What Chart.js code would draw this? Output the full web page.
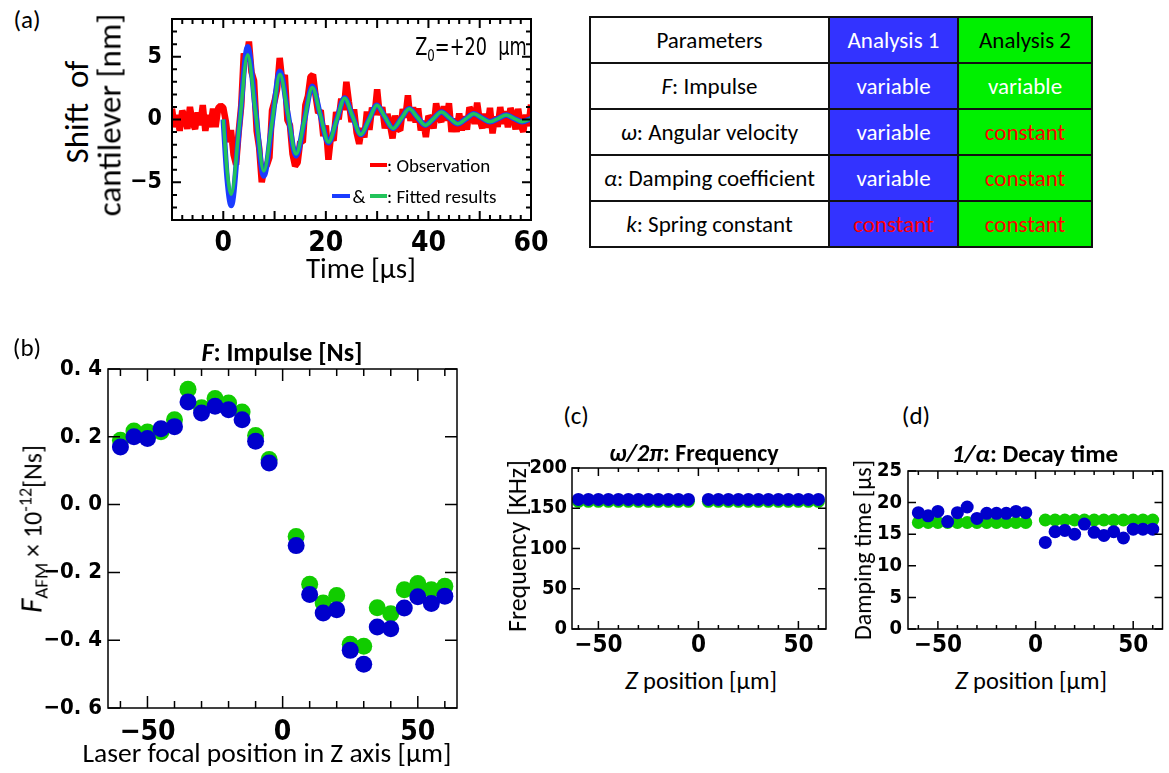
<!DOCTYPE html>
<html>
<head>
<meta charset="utf-8">
<title>Cantilever impulse analysis</title>
<script src="https://cdn.jsdelivr.net/npm/chart.js@4.4.1/dist/chart.umd.min.js"></script>
<style>
  body { margin: 0; background: #fff; }
  #page { position: relative; width: 1169px; height: 773px; overflow: hidden; font-family: Carlito, Lato, sans-serif; color: #000; }
  #page canvas { position: absolute; }
  .t { position: absolute; white-space: nowrap; transform: translate(-50%, -50%); line-height: 1; }
  .l { position: absolute; white-space: nowrap; transform: translate(0, -50%); line-height: 1; }
  .v { transform: translate(-50%, -50%) rotate(-90deg); }
  .cond { font-family: 'Liberation Sans Narrow', 'DejaVu Sans Condensed', 'Roboto Condensed', sans-serif; }
  .swatch { position: absolute; height: 4px; }
  sub, sup { line-height: 0; }
  #params { position: absolute; left: 589px; top: 16px; width: 502px; height: 229px; border-collapse: collapse; table-layout: fixed; font-size: 23px; }
  #params td { border: 2px solid #111; text-align: center; padding: 0; height: 44px; }
  #params .a1 { background: #3333ff; color: #fff; }
  #params .a2 { background: #00f000; color: #fff; }
  #params .const { color: #ff0000; }
</style>
</head>
<body>
<div id="page">
  <canvas id="chartA" width="450" height="265" style="left:110px;top:0px"></canvas>
  <canvas id="chartB" width="440" height="433" style="left:30px;top:340px"></canvas>
  <canvas id="chartC" width="320" height="220" style="left:520px;top:440px"></canvas>
  <canvas id="chartD" width="314" height="220" style="left:855px;top:440px"></canvas>

  <!-- (a) -->
  <div class="t" style="left:27px;top:19px;font-size:25px">(a)</div>
  <div class="t v" style="left:77px;top:112px;font-size:33px">Shift&nbsp; of</div>
  <div class="t v" style="left:110px;top:115px;font-size:33px">cantilever [nm]</div>
  <div class="t" style="left:361px;top:268px;font-size:29px">Time [µs]</div>
  <div class="t cond" style="left:471px;top:47px;font-size:24px;transform:translate(-50%,-50%) scaleX(0.82)">Z<sub style="font-size:16px">0</sub>=+20&nbsp;&nbsp;µm</div>
  <div class="swatch" style="left:370px;top:163px;width:17px;background:#ff0000"></div>
  <div class="l" style="left:387px;top:165px;font-size:19px">: Observation</div>
  <div class="swatch" style="left:332px;top:194px;width:18px;background:#1a3cff"></div>
  <div class="t" style="left:359px;top:196px;font-size:19px">&amp;</div>
  <div class="swatch" style="left:370px;top:194px;width:17px;background:#22c35a"></div>
  <div class="l" style="left:387px;top:196px;font-size:19px">: Fitted results</div>

  <table id="params">
    <colgroup><col style="width:239px"><col style="width:129px"><col style="width:134px"></colgroup>
    <tbody id="paramBody">
      <tr><td>Parameters</td><td class="a1">Analysis 1</td><td class="a2" style="color:#000">Analysis 2</td></tr>
    </tbody>
  </table>

  <!-- (b) -->
  <div class="t" style="left:27px;top:347px;font-size:25px">(b)</div>
  <div class="t" style="left:282px;top:352px;font-size:26px;font-weight:bold"><i>F</i>: Impulse [Ns]</div>
  <div class="t v" style="left:31px;top:529px;font-size:26px"><i style="font-size:31px">F</i><sub style="font-size:19px">AFM</sub> × 10<sup style="font-size:18px">-12</sup>[Ns]</div>
  <div class="t" style="left:267px;top:753px;font-size:27.5px">Laser focal position in Z axis [µm]</div>

  <!-- (c) -->
  <div class="t" style="left:576px;top:415px;font-size:25px">(c)</div>
  <div class="t" style="left:694px;top:453px;font-size:24px;font-weight:bold"><i>ω/2π</i>: Frequency</div>
  <div class="t v" style="left:517px;top:546px;font-size:26px">Frequency [KHz]</div>
  <div class="t" style="left:701px;top:680px;font-size:24.5px"><i style="font-size:27px">Z</i> position [µm]</div>

  <!-- (d) -->
  <div class="t" style="left:916px;top:415px;font-size:25px">(d)</div>
  <div class="t" style="left:1035px;top:453px;font-size:25px;font-weight:bold"><i>1/α</i>: Decay time</div>
  <div class="t v" style="left:863px;top:550px;font-size:24px">Damping time [µs]</div>
  <div class="t" style="left:1031px;top:680px;font-size:24.5px"><i style="font-size:27px">Z</i> position [µm]</div>
</div>

<script>
// ---------- (a) cantilever shift, Z0 = +20 um ----------
// observation sampled every 0.5 us starting at -10 us
const obsStart = -10;
const obsStep = 0.5;
const obsShift = [
  0.85, -0.6, 0.35, -0.9, 0.7, 0.2, -0.75, 1.0, -0.25, -0.75, 0.55, -0.45, 1.15, -0.9, 0.35, -0.6, 0.85, -0.6, 0.9, 1.1,
  0.95, -0.15, -1.8, -0.85, -2.8, -3.6, -1.0, 1.1, 5.27, 4.66, 6.2, 3.77, 3.09, -0.89, -2.26, -5.0, -3.83, -3.63, -3.03, 0.73,
  1.46, 2.43, 4.9, 3.02, 3.55, -0.05, -0.46, -2.76, -3.7, -3.43, -1.76, -1.82, 1.14, 1.86, 3.4, 3.57, 1.89, 0.52, 0.73, -1.32,
  -0.47, -3.2, -1.33, -1.69, 0.6, 0.02, 1.66, 0.75, 3.0, 1.38, -0.21, 0.81, -1.06, -1.94, -0.68, -1.43, 0.64, -0.83, 0.95, 0.37,
  2.4, 0.35, 0.98, -0.71, 0.44, -0.4, -1.51, 0.3, -0.72, -0.87, 0.82, 0.14, 1.93, -0.12, 0.98, -0.24, 0.89, -0.86, -0.1, -1.4,
  0.29, -0.01, -0.71, 1.29, 0.22, -0.2, 1.05, -0.1, 1.29, -0.99, 0.07, -0.98, 0.48, -0.87, 0.25, -0.81, 0.97, 0.58, -0.35, 1.34,
  -0.04, -0.69, 0.46, -0.64, 0.92, -1.1, 0.24, -0.58, 0.99, -0.35, 0.65, -0.62, 0.91, 0.29, -0.79, 0.85, -0.47, -0.98, 0.38, -0.53,
  1.19, -0.75, 0.58
];
// fitted curves: extrema and crossings
const fitTime = [0, 0.75, 1.55, 3.15, 4.75, 6.3, 7.9, 9.5, 11.05, 12.6, 14.2, 15.8, 17.35, 18.9, 20.5, 22.1, 23.65,
  25.2, 26.8, 28.4, 29.95, 31.5, 33.1, 34.7, 36.25, 37.8, 39.4, 41.0, 42.55, 44.1, 45.7, 47.3, 48.85, 50.4, 52.0,
  53.6, 55.15, 56.7, 58.3, 59.9, 61];
const fit1Shift = [0, -4.7, -6.85, -0.5, 5.8, 0.65, -4.5, -0.3, 3.85, 0.47, -2.9, -0.12, 2.65, 0.4, -1.85, -0.06, 1.72,
  0.26, -1.2, -0.03, 1.14, 0.21, -0.71, 0.07, 0.85, 0.2, -0.45, 0.07, 0.6, 0.13, -0.34, 0.05, 0.45, 0.13, -0.18,
  0.08, 0.35, 0.08, -0.18, 0.06, 0.28];
const fit2Shift = [0, -4.1, -5.95, -0.4, 5.15, 0.55, -4.1, -0.25, 3.6, 0.45, -2.75, -0.1, 2.55, 0.4, -1.8, -0.06, 1.7,
  0.26, -1.2, -0.03, 1.14, 0.21, -0.71, 0.07, 0.85, 0.2, -0.45, 0.07, 0.6, 0.13, -0.34, 0.05, 0.45, 0.13, -0.18,
  0.08, 0.35, 0.08, -0.18, 0.06, 0.28];
const timeTicks = [0, 20, 40, 60];
const shiftTicks = [-5, 0, 5];

// ---------- table ----------
const paramSymbols = ['F', 'ω', 'α', 'k'];
const paramNames = ['Impulse', 'Angular velocity', 'Damping coefficient', 'Spring constant'];
const analysis1 = ['variable', 'variable', 'variable', 'constant'];
const analysis2 = ['variable', 'constant', 'constant', 'constant'];

// ---------- (b)-(d) results vs focal position ----------
const zPos = [-60, -55, -50, -45, -40, -35, -30, -25, -20, -15, -10, -5, 5, 10, 15, 20, 25, 30, 35, 40, 45, 50, 55, 60];
const impulse1 = [0.17, 0.2, 0.195, 0.224, 0.23, 0.303, 0.27, 0.29, 0.28, 0.25, 0.187, 0.123,
  -0.121, -0.265, -0.32, -0.31, -0.43, -0.471, -0.361, -0.366, -0.305, -0.272, -0.292, -0.27];
const impulse2 = [0.19, 0.217, 0.214, 0.215, 0.25, 0.34, 0.286, 0.313, 0.3, 0.273, 0.204, 0.133,
  -0.094, -0.235, -0.29, -0.268, -0.412, -0.418, -0.304, -0.322, -0.251, -0.233, -0.251, -0.241];
const impulseTicks = [-0.6, -0.4, -0.2, 0, 0.2, 0.4];
const impulseLabels = ['−0. 6', '−0. 4', '−0. 2', '0. 0', '0. 2', '0. 4'];
const freq1 = [161, 161, 161, 161, 161, 161, 161, 161, 161, 161, 161, 161,
  161, 161, 161, 161, 161, 161, 161, 161, 161, 161, 161, 161];
const freq2 = [158.6, 158.6, 158.6, 158.6, 158.6, 158.6, 158.6, 158.6, 158.6, 158.6, 158.6, 158.6,
  158.6, 158.6, 158.6, 158.6, 158.6, 158.6, 158.6, 158.6, 158.6, 158.6, 158.6, 158.6];
const freqTicks = [0, 50, 100, 150, 200];
const decay1 = [18.4, 17.9, 18.6, 17.0, 18.4, 19.3, 17.5, 18.3, 18.3, 18.3, 18.6, 18.4,
  13.7, 15.4, 15.6, 15.0, 16.6, 15.3, 14.8, 15.4, 14.4, 15.8, 15.8, 15.8];
const decay2 = [16.85, 16.85, 16.85, 16.85, 16.85, 16.85, 16.85, 16.85, 16.85, 16.85, 16.85, 16.85,
  17.25, 17.25, 17.25, 17.25, 17.25, 17.25, 17.25, 17.25, 17.25, 17.25, 17.25, 17.25];
const decayTicks = [0, 5, 10, 15, 20, 25];
const zTicks = [-50, 0, 50];

const blueDot = '#0000cc';
const greenDot = '#11cc00';
const condensed = "'Liberation Sans Narrow', 'DejaVu Sans Condensed', 'Roboto Condensed', sans-serif";

// fill in the parameter table
const body = document.getElementById('paramBody');
paramNames.forEach((name, i) => {
  const tr = document.createElement('tr');
  tr.innerHTML = `
    <td><i>${paramSymbols[i]}</i>: ${name}</td>
    <td class="a1 ${analysis1[i] === 'constant' ? 'const' : ''}">${analysis1[i]}</td>
    <td class="a2 ${analysis2[i] === 'constant' ? 'const' : ''}">${analysis2[i]}</td>`;
  body.appendChild(tr);
});

const minus = v => (v < 0 ? '−' + Math.abs(v) : String(v));

// box frame with inward ticks on all four sides
const framePlugin = {
  id: 'frame',
  afterDatasetsDraw(chart, args, o) {
    const { ctx, chartArea: a, scales: { x, y } } = chart;
    ctx.save();
    ctx.strokeStyle = '#000';
    ctx.lineWidth = o.lineWidth;
    ctx.beginPath();
    const walk = (scale, t, draw) => {
      const first = Math.ceil(scale.min / t.step - 1e-6);
      const last = Math.floor(scale.max / t.step + 1e-6);
      for (let k = first; k <= last; k++) {
        const v = k * t.step;
        const major = Math.abs(v / t.major - Math.round(v / t.major)) < 1e-6;
        draw(scale.getPixelForValue(v), major ? t.majorLen : t.minorLen);
      }
    };
    walk(x, o.x, (px, len) => {
      ctx.moveTo(px, a.bottom); ctx.lineTo(px, a.bottom - len);
      ctx.moveTo(px, a.top); ctx.lineTo(px, a.top + len);
    });
    walk(y, o.y, (py, len) => {
      ctx.moveTo(a.left, py); ctx.lineTo(a.left + len, py);
      ctx.moveTo(a.right, py); ctx.lineTo(a.right - len, py);
    });
    ctx.stroke();
    ctx.strokeRect(a.left, a.top, a.right - a.left, a.bottom - a.top);
    ctx.restore();
  }
};

function axisX(min, max, values, fmt, size, pad, height) {
  return {
    type: 'linear', min, max,
    grid: { display: false, drawTicks: false }, border: { display: false },
    ticks: { font: { family: condensed, size, weight: 'bold' }, color: '#000', padding: pad,
      maxRotation: 0, autoSkip: false, callback: fmt },
    afterBuildTicks: s => { s.ticks = values.map(v => ({ value: v })); },
    afterFit: s => { s.height = height; s.paddingLeft = 0; s.paddingRight = 0; }
  };
}

function axisY(min, max, values, fmt, size, pad, width) {
  return {
    type: 'linear', min, max,
    grid: { display: false, drawTicks: false }, border: { display: false },
    ticks: { font: { family: condensed, size, weight: 'bold' }, color: '#000', padding: pad,
      autoSkip: false, callback: fmt },
    afterBuildTicks: s => { s.ticks = values.map(v => ({ value: v })); },
    afterFit: s => { s.width = width; s.paddingTop = 0; s.paddingBottom = 0; }
  };
}

function baseOptions(padding, frame, x, y) {
  return {
    responsive: false, animation: false, events: [],
    layout: { padding },
    plugins: { legend: { display: false }, tooltip: { enabled: false }, frame },
    scales: { x, y }
  };
}

function dots(values, color, radius, order) {
  return {
    data: zPos.map((z, i) => ({ x: z, y: values[i] })),
    backgroundColor: color, borderWidth: 0, pointRadius: radius, order
  };
}

// (a)
new Chart(document.getElementById('chartA'), {
  type: 'scatter',
  data: {
    datasets: [
      { label: 'Analysis 2', data: fitTime.map((t, i) => ({ x: t, y: fit2Shift[i] })), showLine: true,
        borderColor: '#22c35a', borderWidth: 3.5, pointRadius: 0, cubicInterpolationMode: 'monotone', order: 1 },
      { label: 'Analysis 1', data: fitTime.map((t, i) => ({ x: t, y: fit1Shift[i] })), showLine: true,
        borderColor: '#1a3cff', borderWidth: 5.5, pointRadius: 0, cubicInterpolationMode: 'monotone', order: 2 },
      { label: 'Observation', data: obsShift.map((v, i) => ({ x: obsStart + i * obsStep, y: v })), showLine: true,
        borderColor: '#ff0000', borderWidth: 6.5, borderJoinStyle: 'bevel',
        pointRadius: 0, tension: 0, order: 3 }
    ]
  },
  options: baseOptions({ top: 19, right: 29, left: 0, bottom: 0 },
    { lineWidth: 2, x: { step: 2, major: 10, majorLen: 9, minorLen: 5 }, y: { step: 1, major: 5, majorLen: 9, minorLen: 5 } },
    axisX(-10, 60, timeTicks, v => String(v), 28, 7, 45),
    axisY(-8, 8, shiftTicks, minus, 23, 10, 62)),
  plugins: [framePlugin]
});

// (b)
new Chart(document.getElementById('chartB'), {
  type: 'scatter',
  data: { datasets: [dots(impulse1, blueDot, 8.5, 1), dots(impulse2, greenDot, 8.5, 2)] },
  options: baseOptions({ top: 29, right: 13, left: 0, bottom: 0 },
    { lineWidth: 1.5, x: { step: 10, major: 50, majorLen: 12, minorLen: 7 }, y: { step: 0.2, major: 0.2, majorLen: 12, minorLen: 12 } },
    axisX(-64.6, 64.5, zTicks, minus, 28, 8, 65),
    axisY(-0.6, 0.4, impulseTicks, v => impulseLabels[impulseTicks.indexOf(v)], 22, 6, 78)),
  plugins: [framePlugin]
});

// (c)
new Chart(document.getElementById('chartC'), {
  type: 'scatter',
  data: { datasets: [dots(freq1, blueDot, 6.5, 1), dots(freq2, greenDot, 6.5, 2)] },
  options: baseOptions({ top: 28, right: 14, left: 0, bottom: 0 },
    { lineWidth: 1.5, x: { step: 10, major: 50, majorLen: 8, minorLen: 4 }, y: { step: 50, major: 50, majorLen: 8, minorLen: 8 } },
    axisX(-63.2, 63.8, zTicks, minus, 24, 2, 31),
    axisY(0, 200, freqTicks, v => String(v), 20, 5, 52)),
  plugins: [framePlugin]
});

// (d)
new Chart(document.getElementById('chartD'), {
  type: 'scatter',
  data: { datasets: [dots(decay1, blueDot, 6.5, 1), dots(decay2, greenDot, 6.5, 2)] },
  options: baseOptions({ top: 31, right: 1, left: 0, bottom: 0 },
    { lineWidth: 1.5, x: { step: 10, major: 50, majorLen: 8, minorLen: 4 }, y: { step: 5, major: 5, majorLen: 8, minorLen: 8 } },
    axisX(-65.3, 65, zTicks, minus, 24, 2, 31),
    axisY(0, 25, decayTicks, v => String(v), 20, 6, 53)),
  plugins: [framePlugin]
});
</script>
</body>
</html>
